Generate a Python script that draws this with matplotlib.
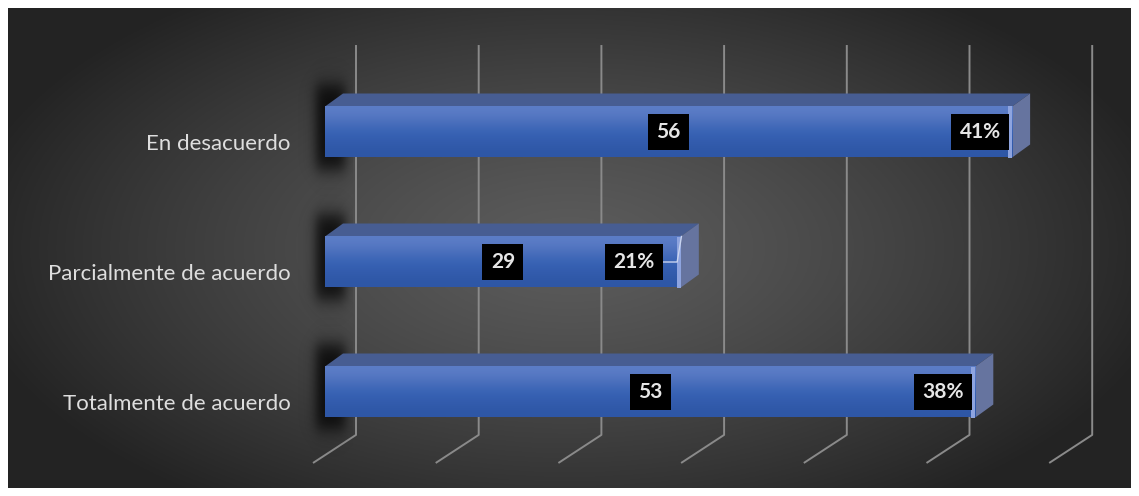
import numpy as np
import matplotlib
matplotlib.use('Agg')
import matplotlib.pyplot as plt
from matplotlib.patches import Polygon

# data (bottom to top)
categories = ["Totalmente de acuerdo", "Parcialmente de acuerdo", "En desacuerdo"]
counts = [53, 29, 56]
percents = ["38%", "21%", "41%"]
x_ticks = [0, 10, 20, 30, 40, 50, 60]

W, H = 1139, 496
PX_X = 12.27   # pixels per value unit
PX_Y = 130.0   # pixels per category step
BAR_H = 51 / PX_Y
DX, DY = 18 / PX_X, 13 / PX_Y          # bar depth
WALL_BACK, WALL_FRONT = 31 / PX_X, -12 / PX_X

fig = plt.figure(figsize=(W / 100, H / 100), dpi=100, facecolor='white')

# background panel with a radial gradient
bg = fig.add_axes([8 / W, 8 / H, (W - 16) / W, (H - 16) / H])
yy, xx = np.mgrid[-1:1:300j, -1:1:600j]
r = np.sqrt((xx / 1.05) ** 2 + (yy / 1.25) ** 2)
shade = np.clip(0.36 - 0.21 * r ** 1.3, 0.14, 0.36)
bg.imshow(np.dstack([shade] * 3), aspect='auto', extent=(0, 1, 0, 1))
bg.set_axis_off()

# main axes: value 0 at x=325 px, category 0 centred at y=104 px from bottom
y_lo, y_hi = -0.55, 2.67
left_px = 325
ax = fig.add_axes([left_px / W, (104 + y_lo * PX_Y) / H,
                   60 * PX_X / W, (y_hi - y_lo) * PX_Y / H])
ax.set_xlim(0, 60)
ax.set_ylim(y_lo, y_hi)
ax.patch.set_alpha(0)
for s in ax.spines.values():
    s.set_visible(False)
ax.set_xticks([])

# gridlines: back wall + floor
for v in x_ticks:
    ax.plot([v + WALL_BACK, v + WALL_BACK, v + WALL_FRONT],
            [2.669, -0.33, -0.546], color='#8a8a8a', lw=1.4,
            solid_capstyle='butt', zorder=1, clip_on=False)

face_grad = np.array([[0.36, 0.49, 0.78], [0.30, 0.44, 0.74], [0.22, 0.39, 0.71],
                      [0.20, 0.36, 0.68], [0.18, 0.34, 0.65]])[:, None, :]


def smooth_box(t, a, b, s):
    return 0.5 * (np.tanh((t - a) / s) - np.tanh((t - b) / s))


label_box = dict(boxstyle='square,pad=0.4', fc='black', ec='none')

for i, (cat, n, p) in enumerate(zip(categories, counts, percents)):
    yb, yt = i - BAR_H / 2, i + BAR_H / 2

    # soft shadow behind the left end of the bar
    sx = np.linspace(-2.4, 2.2, 90)
    sy = np.linspace(yb - 0.4, yt + 0.4, 120)
    ax_prof = smooth_box(sx, -0.8, 1.6, 0.55)
    ay_prof = smooth_box(sy, yb - 0.1, yt + 0.17, 0.08)
    sh = np.zeros((120, 90, 4))
    sh[..., 3] = 0.8 * ay_prof[:, None] * ax_prof[None, :]
    ax.imshow(sh, extent=(sx[0], sx[-1], sy[0], sy[-1]), origin='lower',
              aspect='auto', zorder=2, clip_on=False)

    # top face
    ax.add_patch(Polygon([(0, yt), (n, yt), (n + DX, yt + DY), (DX, yt + DY)],
                         closed=True, facecolor='#475d92', edgecolor='none', zorder=3))
    # side face
    ax.add_patch(Polygon([(n, yb), (n, yt), (n + DX, yt + DY), (n + DX, yb + DY)],
                         closed=True, facecolor='#66749f', edgecolor='none', zorder=3))
    # front face with vertical gradient
    ax.imshow(face_grad, extent=(0, n, yb, yt), aspect='auto',
              interpolation='bicubic', zorder=4)
    ax.add_patch(plt.Rectangle((n - 0.35, yb), 0.35, BAR_H, facecolor='#8ea4df',
                               edgecolor='none', zorder=4))

    # value label
    ax.text(n / 2, i, str(n), ha='center', va='center', fontsize=15,
            fontweight='bold', color='#e6e6e6', family='Lato', zorder=6,
            bbox=label_box)

    # percent label
    if n < 40:
        px = n - 3.8
        ax.plot([px + 2.35, n - 0.3, n + 0.05], [i, i, yt], color='#c9d4ef',
                lw=1.0, zorder=5)
    else:
        px = n - 2.6
    ax.text(px, i, p, ha='center', va='center', fontsize=15,
            fontweight='bold', color='#e6e6e6', family='Lato', zorder=6,
            bbox=label_box)

# category labels sit slightly below the bar centres
ax.set_yticks([i - 10 / PX_Y for i in range(len(categories))])
ax.set_yticklabels(categories, fontsize=16, color='#dedede', family='Lato')
ax.tick_params(axis='y', length=0, pad=25)

fig.savefig('out.png', dpi=100, facecolor='white')
